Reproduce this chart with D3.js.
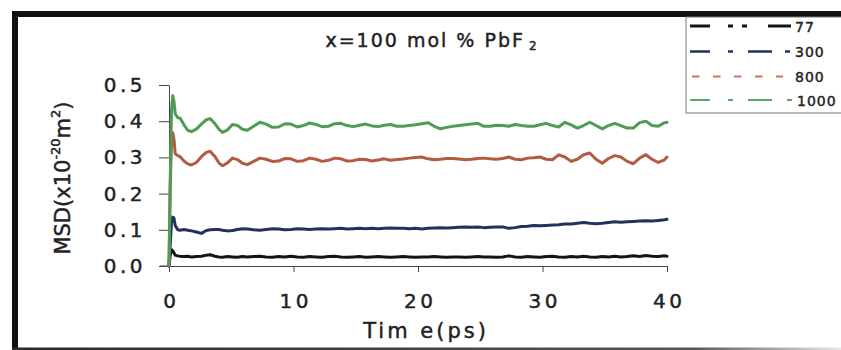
<!DOCTYPE html>
<html><head><meta charset="utf-8">
<script src="https://cdn.jsdelivr.net/npm/d3@7"></script>
<style>
html,body{margin:0;padding:0;background:#fff;}
svg{display:block;}
text{font-family:"DejaVu Sans",sans-serif;fill:#222;stroke:#222;stroke-width:0.45px;}
</style></head>
<body>
<script>
// ---- data ----
const times = [0,0.1,0.2,0.3,0.4,0.5,0.7,0.9,1.2,1.5,1.8,2.2,2.6,3.0,3.3,3.7,4.0,4.3,4.7,5.1,5.5,5.9,6.3,6.8,7.3,7.8,8.3,
  8.8,9.3,9.8,10.3,10.8,11.3,11.8,12.3,12.8,13.3,13.8,14.3,14.8,15.3,15.8,16.3,16.8,17.3,17.8,18.3,18.8,19.3,19.8,
  20.3,20.8,21.3,21.8,22.3,22.8,23.3,23.8,24.3,24.8,25.3,25.8,26.3,26.8,27.3,27.8,28.3,28.8,29.3,29.8,
  30.3,30.8,31.3,31.8,32.3,32.8,33.3,33.8,34.3,34.8,35.3,35.8,36.3,36.8,37.3,37.8,38.3,38.8,39.3,39.8,40];

const msd1000 = [0,0.24,0.43,0.47,0.455,0.42,0.41,0.408,0.39,0.375,0.371,0.378,0.392,0.404,0.407,0.393,0.378,0.369,0.376,0.391,0.388,0.378,0.375,0.386,0.397,0.392,0.383,
  0.384,0.393,0.392,0.384,0.388,0.395,0.391,0.385,0.386,0.393,0.394,0.388,0.385,0.389,0.392,0.387,0.385,0.389,0.391,0.386,0.386,0.388,0.390,
  0.393,0.396,0.386,0.379,0.383,0.386,0.388,0.390,0.392,0.394,0.386,0.386,0.389,0.388,0.386,0.391,0.388,0.386,0.386,0.390,
  0.394,0.388,0.384,0.397,0.390,0.381,0.388,0.397,0.388,0.379,0.388,0.394,0.388,0.381,0.381,0.396,0.400,0.388,0.386,0.396,0.397];

const msd800 = [0,0.22,0.34,0.368,0.35,0.31,0.305,0.302,0.29,0.282,0.279,0.286,0.302,0.314,0.317,0.302,0.285,0.277,0.285,0.298,0.294,0.284,0.28,0.289,0.298,0.295,0.289,
  0.29,0.297,0.296,0.289,0.291,0.298,0.295,0.289,0.292,0.298,0.296,0.29,0.291,0.295,0.294,0.29,0.293,0.296,0.292,0.294,0.2955,0.298,0.300,
  0.301,0.296,0.2935,0.295,0.297,0.297,0.2955,0.2935,0.295,0.297,0.298,0.296,0.295,0.297,0.301,0.295,0.2935,0.298,0.299,0.301,
  0.295,0.2935,0.307,0.301,0.289,0.295,0.3075,0.312,0.295,0.284,0.297,0.305,0.301,0.289,0.2825,0.298,0.3075,0.295,0.286,0.2935,0.301];

const msd300 = [0,0.06,0.12,0.135,0.132,0.112,0.1,0.099,0.101,0.099,0.097,0.094,0.09,0.098,0.1,0.101,0.101,0.099,0.097,0.098,0.101,0.103,0.102,0.1,0.099,0.101,0.103,
  0.102,0.1,0.101,0.103,0.102,0.101,0.102,0.103,0.102,0.103,0.104,0.102,0.103,0.104,0.103,0.104,0.103,0.104,0.105,0.104,0.104,0.103,0.104,
  0.102,0.104,0.105,0.106,0.105,0.106,0.107,0.108,0.107,0.108,0.106,0.107,0.108,0.108,0.104,0.106,0.109,0.11,0.112,0.111,
  0.112,0.113,0.114,0.116,0.116,0.118,0.12,0.118,0.117,0.118,0.12,0.122,0.121,0.122,0.123,0.124,0.125,0.124,0.126,0.128,0.129];

const msd77 = [0,0.03,0.045,0.042,0.036,0.03,0.028,0.027,0.026,0.027,0.025,0.026,0.027,0.03,0.031,0.027,0.025,0.024,0.026,0.025,0.024,0.026,0.025,0.026,0.027,0.025,0.024,
  0.026,0.025,0.027,0.025,0.024,0.026,0.025,0.024,0.026,0.027,0.025,0.024,0.025,0.026,0.024,0.025,0.026,0.025,0.024,0.025,0.026,0.025,0.024,
  0.025,0.025,0.026,0.025,0.024,0.025,0.025,0.024,0.025,0.026,0.025,0.025,0.024,0.025,0.028,0.025,0.024,0.026,0.025,0.024,
  0.026,0.027,0.025,0.024,0.026,0.025,0.027,0.025,0.024,0.026,0.025,0.027,0.025,0.026,0.028,0.026,0.029,0.027,0.026,0.028,0.027];

const seriesNames = ["77","300","800","1000"];
const xTicks = [0,10,20,30,40];
const yTicks = [0.0,0.1,0.2,0.3,0.4,0.5];
const titleMain = "x=100 mol % PbF";
const titleSub = "2";
const xLabel = "Tim e(ps)";

// ---- drawing ----
const W = 841, H = 350;
const svg = d3.select("body").append("svg").attr("width", W).attr("height", H);

const defs = svg.append("defs");
const grad = defs.append("linearGradient").attr("id","bottomFade").attr("x1","0").attr("x2","1");
grad.append("stop").attr("offset","0").attr("stop-color","#2a2a2a");
grad.append("stop").attr("offset","0.82").attr("stop-color","#555");
grad.append("stop").attr("offset","1").attr("stop-color","#e8e8e8");

// outer frame (scan border)
svg.append("rect").attr("x",12).attr("y",11).attr("width",W-12).attr("height",6).attr("fill","#111");
svg.append("rect").attr("x",12).attr("y",11).attr("width",6).attr("height",H-11).attr("fill","#111");
svg.append("rect").attr("x",12).attr("y",347.5).attr("width",W-12).attr("height",2.5).attr("fill","url(#bottomFade)");

const x = d3.scaleLinear().domain([0,40]).range([169,667]);
const y = d3.scaleLinear().domain([0,0.5]).range([266,85]);

// axes
const gx = svg.append("g").attr("transform",`translate(0,${y(0)})`)
  .call(d3.axisBottom(x).tickValues(xTicks).tickFormat(d3.format("d")).tickSize(6).tickSizeOuter(0).tickPadding(22));
const gy = svg.append("g").attr("transform",`translate(${x(0)},0)`)
  .call(d3.axisLeft(y).tickValues(yTicks).tickFormat(d3.format(".1f")).tickSize(10).tickSizeOuter(0).tickPadding(13));
[gx,gy].forEach(g=>{
  g.select(".domain").attr("stroke","#444").attr("stroke-width",1);
  g.selectAll(".tick line").attr("stroke","#444").attr("stroke-width",1);
  g.selectAll(".tick text").attr("font-family","DejaVu Sans").attr("font-size",20)
    .attr("letter-spacing","3.5px").attr("fill","#222");
});
gx.selectAll(".tick text").attr("dx","1.75");
// extend x axis to the 0.0 tick on the left
svg.append("line").attr("x1",x(0)-9).attr("x2",x(0)).attr("y1",y(0)).attr("y2",y(0)).attr("stroke","#444");

// series lines
const colors = {"77":"#141414","300":"#24305e","800":"#b35a40","1000":"#4e9c56"};
const dataBy = {"77":msd77,"300":msd300,"800":msd800,"1000":msd1000};
const line = d3.line().x((d,i)=>x(times[i])).y(d=>y(d));
["77","300","800","1000"].forEach(k=>{
  svg.append("path").datum(dataBy[k]).attr("d",line).attr("fill","none")
    .attr("stroke",colors[k]).attr("stroke-width",3)
    .attr("stroke-linejoin","round").attr("stroke-linecap","round");
});

// title
const t = svg.append("text").attr("x",432).attr("y",47).attr("text-anchor","middle")
  .attr("font-size",19).attr("letter-spacing","2px");
t.append("tspan").text(titleMain);
t.append("tspan").attr("font-size",12).attr("dx",4).attr("dy",3).text(titleSub);

// x axis label
svg.append("text").attr("x",426).attr("y",338).attr("text-anchor","middle")
  .attr("font-size",21).attr("letter-spacing","3px").text(xLabel);

// y axis label
const yl = svg.append("text").attr("transform","translate(70,178) rotate(-90)")
  .attr("text-anchor","middle").attr("font-size",21);
yl.append("tspan").text("MSD(x10");
yl.append("tspan").attr("font-size",13).attr("dy",-10).text("-20");
yl.append("tspan").attr("dy",10).text("m");
yl.append("tspan").attr("font-size",13).attr("dy",-10).text("2");
yl.append("tspan").attr("dy",10).text(")");

// legend
const lg = svg.append("g");
lg.append("rect").attr("x",686).attr("y",17).attr("width",W-686+5).attr("height",96)
  .attr("fill","#fff").attr("stroke","#777").attr("stroke-width",1);
const legendRows = [
  {k:"77", y:26, x1:690, x2:791, dash:"20,18,5,9,5,21,23,100", w:2.8},
  {k:"300", y:51.5, x1:690, x2:790, dash:"20,18,5,15,24,13,5,100", w:2.4},
  {k:"800", y:76.5, x1:692, x2:783, dash:"7.5,13.5", w:2.2},
  {k:"1000", y:100, x1:690, x2:792, dash:"20,18,5,15,24,15,5,100", w:2.2}
];
const lcol = {"77":"#141414","300":"#24305e","800":"#c8735e","1000":"#5aa862"};
legendRows.forEach((r,i)=>{
  lg.append("line").attr("x1",r.x1).attr("x2",r.x2).attr("y1",r.y).attr("y2",r.y)
    .attr("stroke",lcol[r.k]).attr("stroke-width",r.w).attr("stroke-dasharray",r.dash);
  lg.append("text").attr("x", r.k==="1000"?797:795).attr("y",r.y+5.5).attr("font-size",14)
    .attr("letter-spacing","1px").text(seriesNames[i]);
});
</script>
</body></html>
